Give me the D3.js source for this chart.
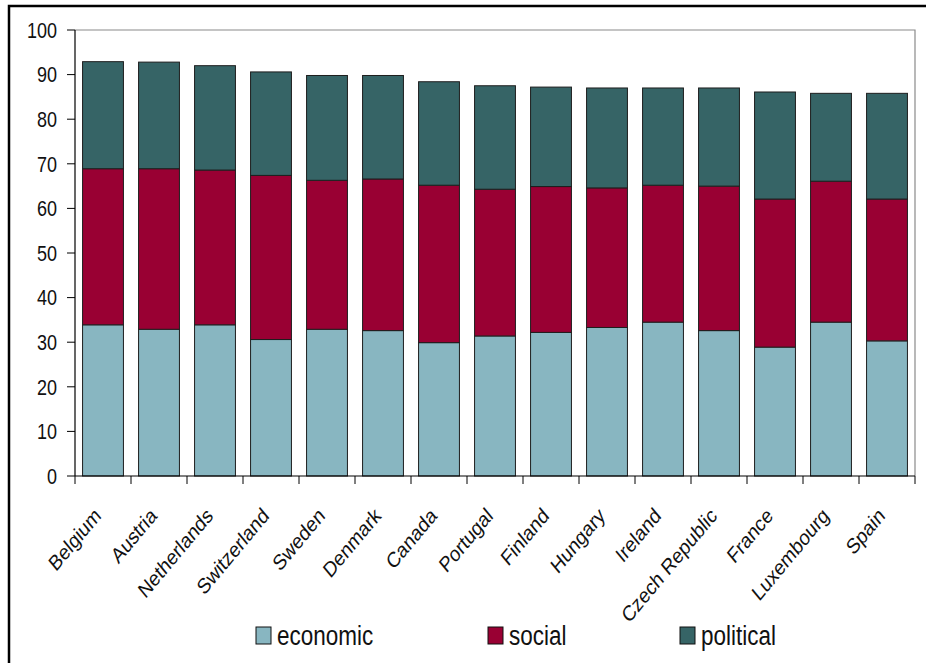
<html>
<head>
    <meta http-equiv='Content-Type' content='text/html; charset=utf-8'>
    <script src="https://d3js.org/d3.v7.min.js" charset="utf-8"></script>
    <style>
    body { margin: 0px; background: #fff; }
    svg text { font-family: "Liberation Sans", Arial, sans-serif; fill: #111; }
    </style>
</head>
<body>
<script>

var w = 926, h = 663;

var countries = ["Belgium", "Austria", "Netherlands", "Switzerland", "Sweden", "Denmark", "Canada",
    "Portugal", "Finland", "Hungary", "Ireland", "Czech Republic", "France", "Luxembourg", "Spain"];
var economic  = [33.9, 32.9, 33.9, 30.6, 32.9, 32.6, 29.9, 31.4, 32.2, 33.3, 34.5, 32.6, 28.9, 34.5, 30.3];
var social    = [35.0, 36.0, 34.7, 36.8, 33.4, 34.0, 35.3, 32.9, 32.7, 31.3, 30.7, 32.4, 33.2, 31.6, 31.8];
var political = [24.0, 23.9, 23.4, 23.2, 23.5, 23.2, 23.2, 23.2, 22.3, 22.4, 21.8, 22.0, 24.0, 19.7, 23.7];
var seriesNames = ["economic", "social", "political"];
var colors = ["#88b6c1", "#990033", "#366466"];
var yTicks = [0, 10, 20, 30, 40, 50, 60, 70, 80, 90, 100];

/* plot area edges */
var plotLeft = 75, plotRight = 915, plotTop = 30, plotBottom = 476;
var stretch = 1.2;  // the reference text looks taller than it is wide

var svg = d3.select("body").append("svg")
    .attr("width", w)
    .attr("height", h);

// outer frame
svg.append("rect")
    .attr("x", 9).attr("y", 6)
    .attr("width", 960).attr("height", 700)
    .attr("fill", "none")
    .attr("stroke", "#000")
    .attr("stroke-width", 2.5);

var x = d3.scaleBand()
    .domain(countries)
    .range([plotLeft, plotRight])
    .paddingInner(0.27)
    .paddingOuter(0.135);

var y = d3.scaleLinear()
    .domain([0, 100])
    .range([plotBottom, plotTop]);

// plot area border (top and right)
svg.append("path")
    .attr("d", "M" + plotLeft + "," + plotTop + "H" + plotRight + "V" + plotBottom)
    .attr("fill", "none")
    .attr("stroke", "#8a8a8a")
    .attr("stroke-width", 1.2);

var table = countries.map(function(c, i) {
    return { country: c, economic: economic[i], social: social[i], political: political[i] };
});
var stacked = d3.stack().keys(seriesNames)(table);

svg.selectAll("g.series")
    .data(stacked)
    .enter().append("g")
    .attr("class", "series")
    .attr("fill", function(d, i) { return colors[i]; })
    .selectAll("rect")
    .data(function(d) { return d; })
    .enter().append("rect")
    .attr("x", function(d) { return x(d.data.country); })
    .attr("width", x.bandwidth())
    .attr("y", function(d) { return y(d[1]); })
    .attr("height", function(d) { return y(d[0]) - y(d[1]); })
    .attr("stroke", "#1e1e1e")
    .attr("stroke-width", 1);

// y axis
var yAxis = svg.append("g").attr("transform", "translate(" + plotLeft + ",0)");
yAxis.append("line")
    .attr("x1", 0).attr("x2", 0)
    .attr("y1", plotTop).attr("y2", plotBottom)
    .attr("stroke", "#000").attr("stroke-width", 1.2);
yAxis.selectAll("line.tick")
    .data(yTicks)
    .enter().append("line")
    .attr("class", "tick")
    .attr("x1", -8).attr("x2", 0)
    .attr("y1", function(d) { return y(d); })
    .attr("y2", function(d) { return y(d); })
    .attr("stroke", "#000");
yAxis.selectAll("text")
    .data(yTicks)
    .enter().append("text")
    .attr("transform", function(d) { return "translate(-18," + y(d) + ") scale(1," + stretch + ")"; })
    .attr("dy", "0.36em")
    .attr("text-anchor", "end")
    .style("font-size", "18px")
    .text(String);

// x axis
var xAxis = svg.append("g");
xAxis.append("line")
    .attr("x1", plotLeft).attr("x2", plotRight)
    .attr("y1", plotBottom).attr("y2", plotBottom)
    .attr("stroke", "#000").attr("stroke-width", 1.2);
var step = x.step();
xAxis.selectAll("line.tick")
    .data(d3.range(countries.length + 1))
    .enter().append("line")
    .attr("class", "tick")
    .attr("x1", function(i) { return plotLeft + i * step; })
    .attr("x2", function(i) { return plotLeft + i * step; })
    .attr("y1", plotBottom).attr("y2", plotBottom + 8)
    .attr("stroke", "#000");
xAxis.selectAll("text")
    .data(countries)
    .enter().append("text")
    .attr("transform", function(d) {
        var cx = x(d) + x.bandwidth() / 2 - 1;
        return "translate(" + cx + "," + (plotBottom + 41) + ") scale(1," + stretch + ") rotate(-45)";
    })
    .attr("text-anchor", "end")
    .style("font-size", "18px")
    .text(String);

// legend
var legendX = [256, 488, 680];
var legend = svg.selectAll("g.legend")
    .data(seriesNames)
    .enter().append("g")
    .attr("class", "legend")
    .attr("transform", function(d, i) { return "translate(" + legendX[i] + ",627)"; });
legend.append("rect")
    .attr("width", 15).attr("height", 17)
    .attr("fill", function(d, i) { return colors[i]; })
    .attr("stroke", "#111");
legend.append("text")
    .attr("transform", "translate(21,18) scale(1," + stretch + ")")
    .style("font-size", "22.5px")
    .text(String);

</script>
</body>
</html>
